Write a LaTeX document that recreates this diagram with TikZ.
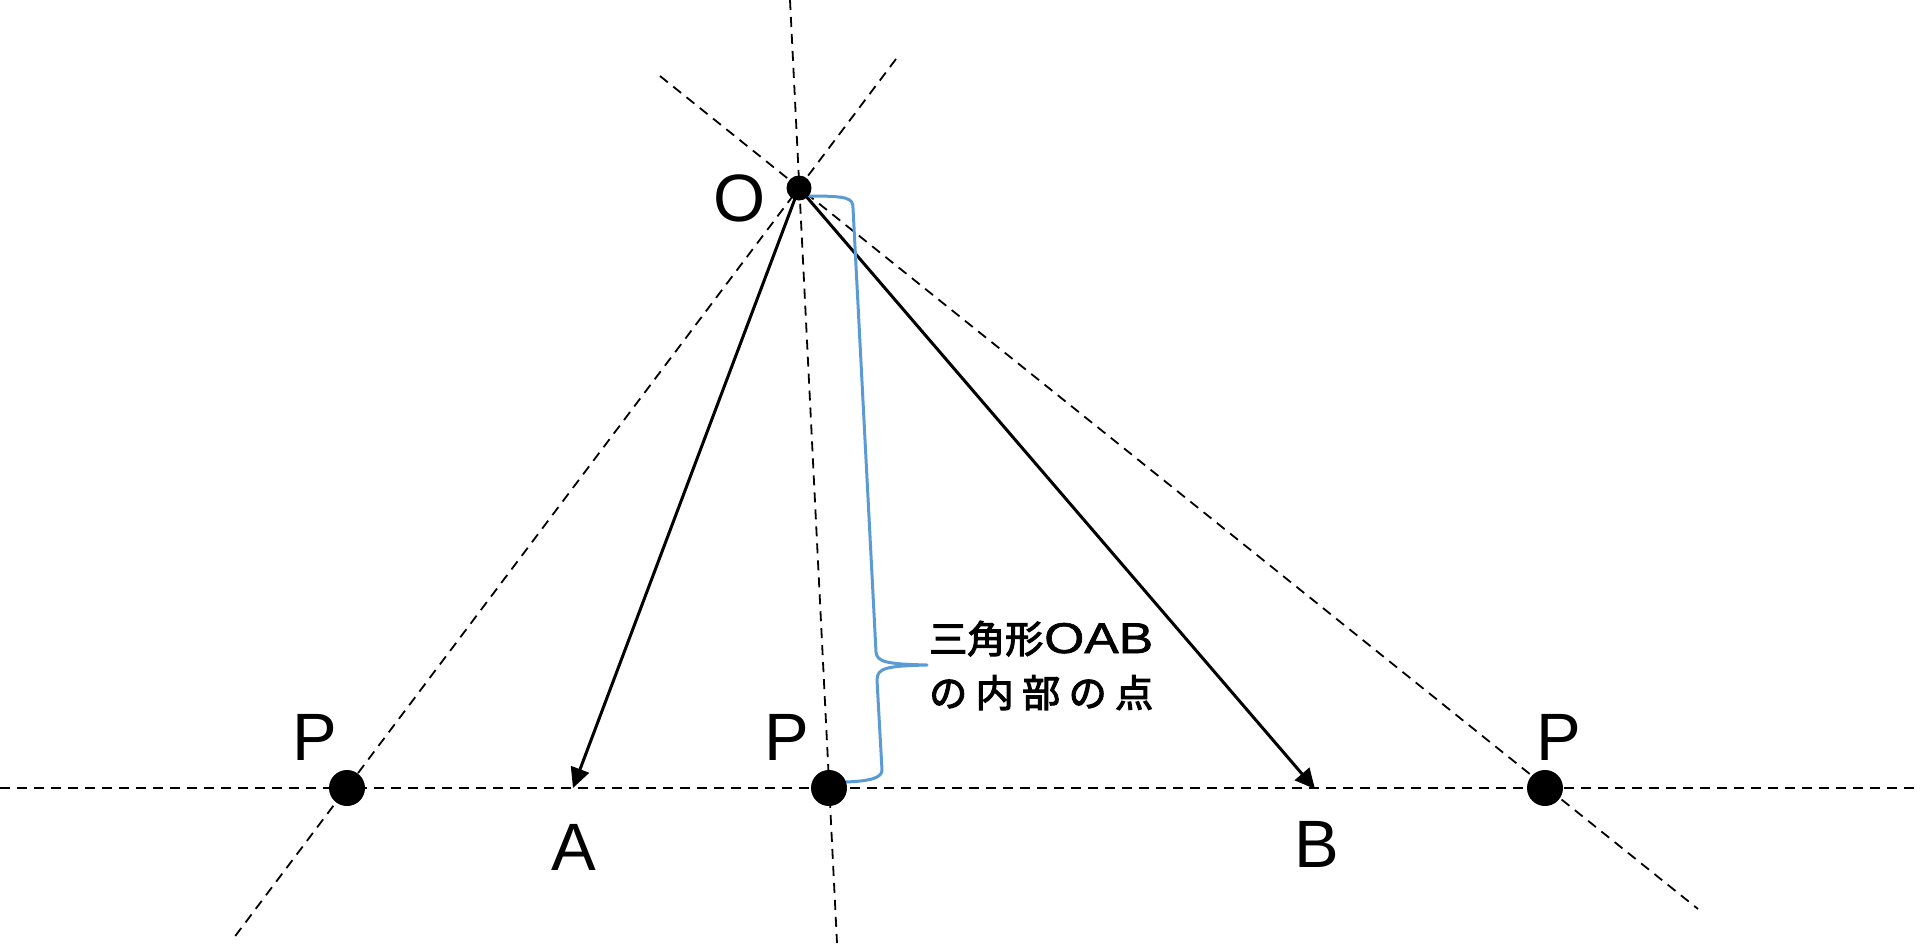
\documentclass[tikz,border=0pt]{standalone}
\usepackage{fontspec}
\setmainfont{Liberation Sans}
\newfontfamily\jp{Noto Sans CJK JP}[FakeBold=3]
\newfontfamily\latinb{Liberation Sans}[FakeBold=1.5,FakeStretch=1.2]
\usetikzlibrary{arrows.meta}
\definecolor{bracecol}{HTML}{5B9BD5}
\begin{document}
\begin{tikzpicture}[x=1pt,y=-1pt,
  guide/.style={draw=black,line width=1.8pt,dash pattern=on 10pt off 7pt},
  vec/.style={draw=black,line width=3pt,-{Triangle[length=20pt,width=19pt]}},
  bigdot/.style={circle,fill=black,minimum size=36pt,inner sep=0pt},
  odot/.style={circle,fill=black,minimum size=25pt,inner sep=0pt},
  lab/.style={inner sep=0pt,font=\fontsize{67}{70}\selectfont},
  jtext/.style={inner sep=0pt,font=\jp\fontsize{38}{42}\selectfont},
  bracepath/.style={draw=bracecol,line width=3pt,line join=round,line cap=round}]
\useasboundingbox (0,0) rectangle (1920,946);
% points
\coordinate (o) at (799,188);
\coordinate (p1) at (347,788);
\coordinate (p2) at (829,788);
\coordinate (p3) at (1545,788);
\coordinate (a) at (573,788);
\coordinate (b) at (1315,789);
% guide line ends
\coordinate (h1) at (0,788);
\coordinate (h2) at (1918,788);
\coordinate (l1a) at (896,59);
\coordinate (l1b) at (233,939);
\coordinate (l2a) at (790,0);
\coordinate (l2b) at (837,943);
\coordinate (l3a) at (660,76);
\coordinate (l3b) at (1698,909);
% dashed guides
\draw[guide] (h1) -- (h2);
\draw[guide] (l1a) -- (l1b);
\draw[guide] (l2a) -- (l2b);
\draw[guide] (l3a) -- (l3b);
% vectors
\draw[vec] (o) -- (a);
\draw[vec] (o) -- (b);
% brace
\coordinate (bt) at (809,196);
\coordinate (btc) at (853,208);
\coordinate (bm1) at (876,652);
\coordinate (tip) at (927,665);
\coordinate (bm2) at (877,680);
\coordinate (bbc) at (882,770);
\coordinate (bb) at (846,782);
\draw[bracepath] (bt) .. controls (848,196) and (853,198) .. (btc)
  -- (bm1) .. controls (877,662) and (886,664) .. (tip)
  .. controls (886,666) and (877,668) .. (bm2)
  -- (bbc) .. controls (882,778) and (870,781) .. (bb);
% dots
\node[odot] (O) at (o) {};
\node[bigdot] (P1) at (p1) {};
\node[bigdot] (P2) at (p2) {};
\node[bigdot] (P3) at (p3) {};
% labels
\node[lab] (lO) at (740,198) {O};
\node[lab] (lP1) at (315,737) {P};
\node[lab] (lP2) at (787,737) {P};
\node[lab] (lP3) at (1559,737) {P};
\node[lab] (lA) at (574,847) {A};
\node[lab] (lB) at (1317,844) {B};
% brace text
\node[jtext,anchor=base west] (t1) at (929,653) {三角形{\latinb\fontsize{43}{46}\selectfont\hskip1pt OAB}};
\node[jtext,anchor=base west] (t2) at (929,707) {\hbox to 224pt{の\hfil 内\hfil 部\hfil の\hfil 点}};
\end{tikzpicture}
\end{document}
